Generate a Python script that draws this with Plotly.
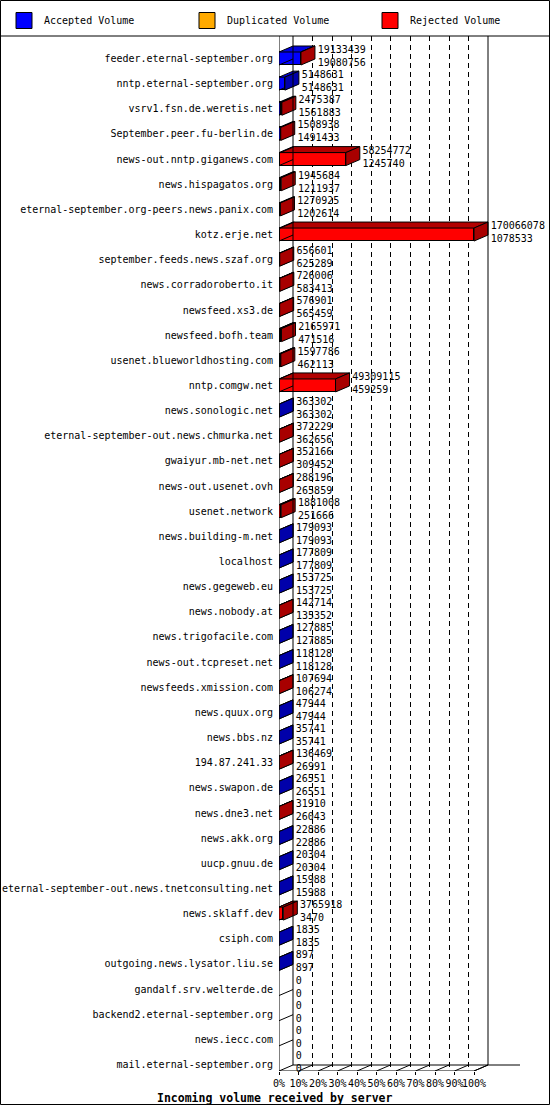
import plotly.graph_objects as go

# ---------------- data ----------------
servers = [
    "feeder.eternal-september.org", "nntp.eternal-september.org", "vsrv1.fsn.de.weretis.net",
    "September.peer.fu-berlin.de", "news-out.nntp.giganews.com", "news.hispagatos.org",
    "eternal-september.org-peers.news.panix.com", "kotz.erje.net", "september.feeds.news.szaf.org",
    "news.corradoroberto.it", "newsfeed.xs3.de", "newsfeed.bofh.team", "usenet.blueworldhosting.com",
    "nntp.comgw.net", "news.sonologic.net", "eternal-september-out.news.chmurka.net",
    "gwaiyur.mb-net.net", "news-out.usenet.ovh", "usenet.network", "news.building-m.net",
    "localhost", "news.gegeweb.eu", "news.nobody.at", "news.trigofacile.com",
    "news-out.tcpreset.net", "newsfeeds.xmission.com", "news.quux.org", "news.bbs.nz",
    "194.87.241.33", "news.swapon.de", "news.dne3.net", "news.akk.org", "uucp.gnuu.de",
    "eternal-september-out.news.tnetconsulting.net", "news.sklaff.dev", "csiph.com",
    "outgoing.news.lysator.liu.se", "gandalf.srv.welterde.de", "backend2.eternal-september.org",
    "news.iecc.com", "mail.eternal-september.org",
]
offered_volume = [
    19133439, 5148631, 2475387, 1508938, 58254772, 1945684, 1270925, 170066078, 656601,
    726006, 576901, 2165971, 1597786, 49309115, 363302, 372229, 352166, 288196, 1881008,
    179093, 177809, 153725, 142714, 127885, 118128, 107694, 47944, 35741, 136469, 26551,
    31910, 22886, 20304, 15988, 3765918, 1835, 897, 0, 0, 0, 0,
]
accepted_volume = [
    19080756, 5148631, 1561883, 1491433, 1245740, 1211937, 1202614, 1078533, 625289,
    583413, 565459, 471516, 462113, 459259, 363302, 362656, 309452, 265859, 251666,
    179093, 177809, 153725, 135352, 127885, 118128, 106274, 47944, 35741, 26991, 26551,
    26043, 22886, 20304, 15988, 3470, 1835, 897, 0, 0, 0, 0,
]
duplicated_volume = [
    0, 0, 0, 0, 0, 0, 0, 0, 0, 0, 0, 0, 0, 0, 0, 0, 0, 0, 0, 0, 0,
    0, 0, 0, 0, 0, 0, 0, 0, 0, 0, 0, 0, 0, 0, 0, 0, 0, 0, 0, 0,
]
rejected_volume = [o - a - d for o, a, d in zip(offered_volume, accepted_volume, duplicated_volume)]
x_ticks = [0, 10, 20, 30, 40, 50, 60, 70, 80, 90, 100]
x_tick_labels = [f"{t}%" for t in x_ticks]

# ---------------- geometry / style ----------------
W, H = 550, 1105
P, C0 = 25.15, 58.5                      # row pitch, centre of first front face
L, R, T = 279, 549, 36                   # plot area in pixels
B = round(C0 + 40 * P + 6.5)
PXX = 1.95                               # pixels per percent (front plane)
XMAX = (R - L) / PXX
Y_TOP = (T - C0) / P
Y_BOT = (B - C0) / P
BW = 13 / P                              # bar thickness in row units
DX = 14 / PXX                            # depth offset (x) in percent units
DY = 6 / P                               # depth offset (y) in row units
FONT = "DejaVu Sans Mono"

series = [
    ("Accepted Volume", accepted_volume, "#0000FF", "#0000DD", "#0000AA"),
    ("Duplicated Volume", duplicated_volume, "#FFAA00", "#DD9300", "#AA7700"),
    ("Rejected Volume", rejected_volume, "#FF0000", "#B20000", "#A80000"),
]
legend_left_px = [12, 195, 378]          # left edge of each legend entry

vmax = max(offered_volume)
pct = lambda v: v / vmax * 100.0
rows = list(range(len(servers)))

fig = go.Figure()

# front faces (stacked bars)
for name, vals, front, top, side in series:
    fig.add_trace(go.Bar(
        y=rows, x=[pct(v) for v in vals], orientation="h", width=BW,
        marker=dict(color=front, line=dict(color="black", width=1)),
        name=name, showlegend=False, hoverinfo="skip",
    ))

# top faces and side faces computed from the data
top_polys = {s[0]: ([], []) for s in series}
side_polys = {s[0]: ([], []) for s in series}
wall_x, wall_y = [], []
for i in rows:
    start = 0.0
    last = None
    yt, yb = i - BW / 2, i + BW / 2
    for name, vals, *_ in series:
        w = pct(vals[i])
        if w > 0:
            xs, ys = top_polys[name]
            xs += [start, start + w, start + w + DX, start + DX, start, None]
            ys += [yt, yt, yt - DY, yt - DY, yt, None]
            last = name
        start += w
    if last is not None:
        xs, ys = side_polys[last]
        xs += [start, start + DX, start + DX, start, start, None]
        ys += [yt, yt - DY, yb - DY, yb, yt, None]
    wall_x += [0, DX, None]
    wall_y += [yb, yb - DY, None]

fig.add_trace(go.Scatter(x=wall_x, y=wall_y, mode="lines", line=dict(color="black", width=1),
                         showlegend=False, hoverinfo="skip"))
for name, vals, front, top, side in series:
    for polys, col in ((top_polys[name], top), (side_polys[name], side)):
        if polys[0]:
            fig.add_trace(go.Scatter(x=polys[0], y=polys[1], mode="lines", fill="toself",
                                     fillcolor=col, line=dict(color="black", width=1),
                                     showlegend=False, hoverinfo="skip"))

# value labels (offered / accepted)
fig.add_trace(go.Scatter(
    x=[pct(o) + DX + 1.4 for o in offered_volume], y=[i - 0.06 for i in rows],
    mode="text", text=[f"{o}<br>{a}" for o, a in zip(offered_volume, accepted_volume)],
    textposition="middle right", textfont=dict(family=FONT, size=10, color="black"),
    cliponaxis=False, showlegend=False, hoverinfo="skip",
))

# invisible trace for back-wall axis
fig.add_trace(go.Scatter(x=[None], y=[None], xaxis="x2", showlegend=False, hoverinfo="skip"))


def px2paper_x(px):
    return (px - L) / (R - L)


def px2paper_y(py):
    return (B - py) / (B - T)


# legend entries, one legend per entry so they sit where the reference puts them
legends = {}
for k, (name, vals, front, top, side) in enumerate(series):
    lg = "legend" if k == 0 else f"legend{k + 1}"
    fig.add_trace(go.Scatter(x=[None], y=[None], mode="markers", name=name, legend=lg,
                             marker=dict(symbol="square", size=16, color=front,
                                         line=dict(color="black", width=1))))
    legends[lg] = dict(orientation="h", x=px2paper_x(legend_left_px[k] - 8), y=px2paper_y(6),
                       xanchor="left", yanchor="top", itemsizing="trace",
                       font=dict(family=FONT, size=10, color="black"),
                       bgcolor="rgba(0,0,0,0)", borderwidth=0)

# ---------------- frame (walls / floor) ----------------
line = dict(color="black", width=1)
yb_back = Y_BOT - DY
shapes = [
    dict(type="path", xref="x", yref="y", layer="between",
         path=f"M0,{Y_BOT} L100,{Y_BOT} L{100+DX},{yb_back} L{XMAX},{yb_back} L{XMAX},{Y_BOT+1} L0,{Y_BOT+1} Z",
         fillcolor="white", line=dict(width=0)),
    dict(type="line", xref="x", yref="y", x0=0, x1=0, y0=Y_TOP, y1=Y_BOT, line=line),
    dict(type="line", xref="x", yref="y", x0=DX, x1=DX, y0=Y_TOP, y1=yb_back, line=line),
    dict(type="line", xref="x", yref="y", x0=100 + DX, x1=100 + DX, y0=Y_TOP, y1=yb_back, line=line),
    dict(type="line", xref="x", yref="y", x0=DX, x1=(520 - L) / PXX, y0=yb_back, y1=yb_back, line=line),
    dict(type="line", xref="x", yref="y", x0=0, x1=100, y0=Y_BOT, y1=Y_BOT, line=line),
    dict(type="line", xref="x", yref="y", x0=100, x1=100 + DX, y0=Y_BOT, y1=yb_back, line=line),
    dict(type="line", xref="x", yref="y", x0=-DX * 1.1, x1=0, y0=Y_BOT + DY, y1=Y_BOT, line=line),
    # outer border and legend separator
    dict(type="line", xref="paper", yref="paper", x0=px2paper_x(0.5), x1=px2paper_x(549.5),
         y0=px2paper_y(0.5), y1=px2paper_y(0.5), line=line),
    dict(type="line", xref="paper", yref="paper", x0=px2paper_x(0.5), x1=px2paper_x(549.5),
         y0=px2paper_y(1104.5), y1=px2paper_y(1104.5), line=line),
    dict(type="line", xref="paper", yref="paper", x0=px2paper_x(0.5), x1=px2paper_x(0.5),
         y0=px2paper_y(0.5), y1=px2paper_y(1104.5), line=line),
    dict(type="line", xref="paper", yref="paper", x0=px2paper_x(549.5), x1=px2paper_x(549.5),
         y0=px2paper_y(0.5), y1=px2paper_y(1104.5), line=line),
    dict(type="line", xref="paper", yref="paper", x0=px2paper_x(0), x1=px2paper_x(550),
         y0=px2paper_y(T), y1=px2paper_y(T), line=line),
]
for t in x_ticks[1:]:
    shapes.append(dict(type="line", xref="x", yref="y", x0=t, x1=t + DX, y0=Y_BOT, y1=yb_back, line=line))

fig.update_layout(
    width=W, height=H,
    margin=dict(l=L, r=W - R, t=T, b=H - B, pad=0),
    paper_bgcolor="white", plot_bgcolor="white",
    barmode="stack", bargap=0,
    font=dict(family=FONT, size=10, color="black"),
    showlegend=True,
    xaxis=dict(range=[0, XMAX], tickvals=x_ticks, ticktext=x_tick_labels, ticks="outside",
               ticklen=3, tickcolor="black", tickangle=0, showgrid=False, zeroline=False,
               showline=False, tickfont=dict(family=FONT, size=10)),
    xaxis2=dict(range=[-DX, XMAX - DX], overlaying="x", anchor="y", side="bottom",
                tickvals=x_ticks[1:-1], showticklabels=False, ticks="", showgrid=True,
                gridcolor="black", gridwidth=1, griddash="5px,4px", zeroline=False, showline=False),
    yaxis=dict(range=[Y_BOT, Y_TOP], tickvals=rows, ticktext=servers, ticks="",
               ticklabelstandoff=5, showgrid=False, zeroline=False, showline=False,
               tickfont=dict(family=FONT, size=10)),
    shapes=shapes,
    annotations=[dict(text="<b>Incoming volume received by server</b>", xref="paper", yref="paper",
                      x=px2paper_x(274.5), y=px2paper_y(1097.5), showarrow=False,
                      xanchor="center", yanchor="middle",
                      font=dict(family=FONT, size=11.5, color="black"))],
    **legends,
)

fig.write_html("out.html", config={"displayModeBar": False},
               post_script="document.body.style.margin='0';document.body.style.overflow='hidden';")
